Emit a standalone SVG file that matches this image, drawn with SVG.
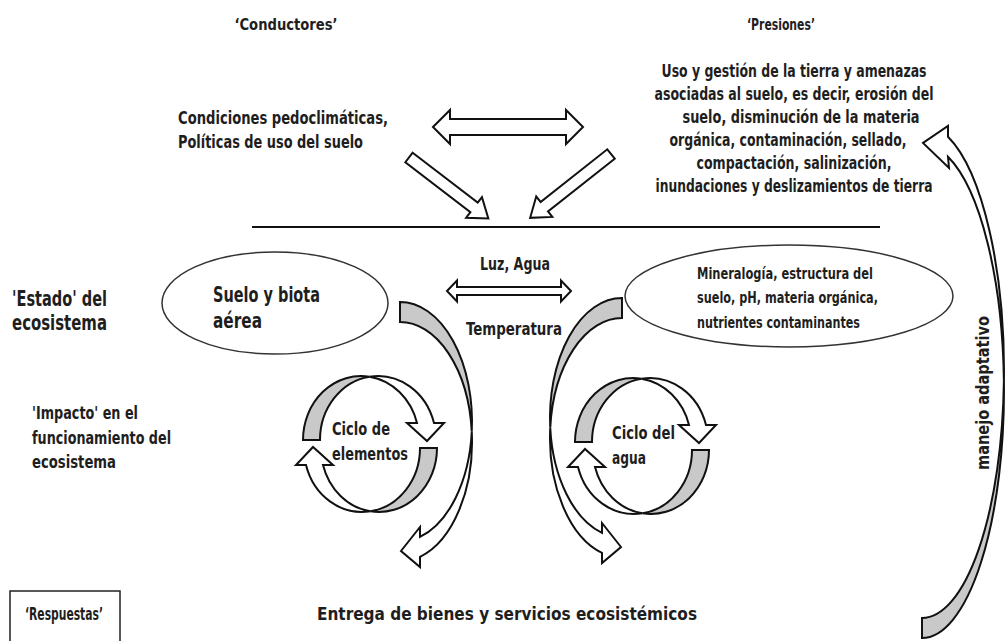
<svg xmlns="http://www.w3.org/2000/svg" xmlns:xlink="http://www.w3.org/1999/xlink" width="1005" height="641" viewBox="0 0 1005 641">
<style>
.t{font-family:"DejaVu Sans Condensed","DejaVu Sans",sans-serif;font-stretch:condensed;font-weight:bold;fill:#1e1e1e;}
.s15{font-size:16px}.s17{font-size:18.5px}.s16{font-size:17px}.s20{font-size:21.5px}.s14{font-size:15px}
.ol{fill:#fff;stroke:#111;stroke-width:2;stroke-linejoin:miter}
.gr{fill:#c9c9c9;stroke:#111;stroke-width:2}
.el{fill:#fff;stroke:#333;stroke-width:1.5}
</style>
<defs>
<g id="cyc">
<path class="gr" d="M303,440 A58,64 0 0 1 369.5,376.7 A58,64 0 0 0 320,440 Z"/>
<path class="ol" d="M369.5,376.7 A58,64 0 0 1 434,423 L444,423 L427,441 L407,423 L417,423 A58,64 0 0 0 369.5,376.7 Z"/>
</g>
<g id="big">
<path class="gr" d="M400,302 A72,119.8 0 0 1 471.75,431.8 A72,119.8 0 0 0 400,322 Z"/>
<path class="ol" d="M471.75,431.8 A72,119.8 0 0 1 420,556.9 L420,567 L401,551 L420,527 L420,536.9 A72,119.8 0 0 0 471.75,431.8 Z"/>
</g>
</defs>
<rect width="1005" height="641" fill="#fff"/>

<g id="conductores"><text class="t s15" x="286" y="30" text-anchor="middle" textLength="103" lengthAdjust="spacingAndGlyphs">‘Conductores’</text></g>
<g id="presiones-title"><text class="t s15" x="781" y="30" text-anchor="middle" textLength="68" lengthAdjust="spacingAndGlyphs">‘Presiones’</text></g>

<g id="presiones" class="t s16" text-anchor="middle">
<text x="794" y="77" textLength="265" lengthAdjust="spacingAndGlyphs">Uso y gestión de la tierra y amenazas</text>
<text x="794" y="100" textLength="279" lengthAdjust="spacingAndGlyphs">asociadas al suelo, es decir, erosión del</text>
<text x="801" y="123" textLength="237" lengthAdjust="spacingAndGlyphs">suelo, disminución de la materia</text>
<text x="788" y="146" textLength="237" lengthAdjust="spacingAndGlyphs">orgánica, contaminación, sellado,</text>
<text x="794" y="169" textLength="195" lengthAdjust="spacingAndGlyphs">compactación, salinización,</text>
<text x="794" y="192" textLength="277" lengthAdjust="spacingAndGlyphs">inundaciones y deslizamientos de tierra</text>
</g>

<g id="condiciones" class="t s17">
<text x="178" y="124" textLength="210" lengthAdjust="spacingAndGlyphs">Condiciones pedoclimáticas,</text>
<text x="178" y="148" textLength="185" lengthAdjust="spacingAndGlyphs">Políticas de uso del suelo</text>
</g>

<g id="estado" class="t s20">
<text x="12" y="306" textLength="95" lengthAdjust="spacingAndGlyphs">'Estado' del</text>
<text x="12" y="330" textLength="95" lengthAdjust="spacingAndGlyphs">ecosistema</text>
</g>

<g id="impacto" class="t s17">
<text x="32" y="419" textLength="106" lengthAdjust="spacingAndGlyphs">'Impacto' en el</text>
<text x="32" y="444" textLength="139" lengthAdjust="spacingAndGlyphs">funcionamiento del</text>
<text x="32" y="468" textLength="84" lengthAdjust="spacingAndGlyphs">ecosistema</text>
</g>

<g id="suelo-biota">
<ellipse class="el" cx="275" cy="303" rx="113" ry="51"/>
<text class="t s20" x="213" y="302" textLength="107" lengthAdjust="spacingAndGlyphs">Suelo y biota</text>
<text class="t s20" x="213" y="328" textLength="49" lengthAdjust="spacingAndGlyphs">aérea</text>
</g>

<g id="mineralogia">
<ellipse class="el" cx="789" cy="296" rx="164" ry="51"/>
<text class="t s14" x="697" y="279" textLength="176" lengthAdjust="spacingAndGlyphs">Mineralogía, estructura del</text>
<text class="t s14" x="697" y="303" textLength="181" lengthAdjust="spacingAndGlyphs">suelo, pH, materia orgánica,</text>
<text class="t s14" x="697" y="328" textLength="163" lengthAdjust="spacingAndGlyphs">nutrientes contaminantes</text>
</g>

<g id="luz-agua"><text class="t s17" x="515" y="270" text-anchor="middle" textLength="70" lengthAdjust="spacingAndGlyphs">Luz, Agua</text></g>
<g id="temperatura"><text class="t s17" x="514" y="335" text-anchor="middle" textLength="96" lengthAdjust="spacingAndGlyphs">Temperatura</text></g>

<g id="ciclo-elementos">
<use xlink:href="#cyc"/>
<use xlink:href="#cyc" transform="rotate(180,370,444)"/>
<text class="t s17" x="332" y="435" textLength="58" lengthAdjust="spacingAndGlyphs">Ciclo de</text>
<text class="t s17" x="332" y="460" textLength="76" lengthAdjust="spacingAndGlyphs">elementos</text>
</g>

<g id="ciclo-agua">
<use xlink:href="#cyc" transform="translate(272,2)"/>
<use xlink:href="#cyc" transform="translate(272,2) rotate(180,370,444)"/>
<text class="t s17" x="612" y="439" textLength="63" lengthAdjust="spacingAndGlyphs">Ciclo del</text>
<text class="t s17" x="612" y="464" textLength="34" lengthAdjust="spacingAndGlyphs">agua</text>
</g>

<g id="respuestas">
<rect x="10" y="591" width="110" height="60" fill="none" stroke="#222" stroke-width="1.5"/>
<text class="t s17" x="64" y="620" text-anchor="middle" textLength="78" lengthAdjust="spacingAndGlyphs">‘Respuestas’</text>
</g>

<g id="entrega"><text class="t s17" x="317" y="620" textLength="380" lengthAdjust="spacingAndGlyphs">Entrega de bienes y servicios ecosistémicos</text></g>

<g id="manejo"><text class="t s17" x="989" y="393" text-anchor="middle" transform="rotate(-90,989,393)" textLength="154" lengthAdjust="spacingAndGlyphs">manejo adaptativo</text></g>

<g id="connectors">
<line x1="252" y1="227" x2="880" y2="227" stroke="#111" stroke-width="2"/>
<path class="ol" d="M433,127 L450,110 L450,119 L566,119 L566,110 L583,127 L566,144 L566,135 L450,135 L450,144 Z"/>
<path class="ol" d="M0,-6 L82,-6 L82,-13 L100,0 L82,13 L82,6 L0,6 Z" transform="translate(409,157.5) rotate(37.5)"/>
<path class="ol" d="M0,-6 L85,-6 L85,-13 L103,0 L85,13 L85,6 L0,6 Z" transform="translate(611,154) rotate(141.7)"/>
<path class="ol" d="M447,291 L457,280.5 L457,287 L561,287 L561,280.5 L571,291 L561,301.5 L561,295 L457,295 L457,301.5 Z"/>
<use xlink:href="#big"/>
<use xlink:href="#big" transform="translate(1022,-4) scale(-1,1)"/>
<path class="gr" d="M922,638 A82,247 0 0 0 1003.9,381 A82,247 0 0 1 922,618 Z"/>
<path class="ol" d="M1003.9,381 A82,247 0 0 0 948,136.8 L948,126 L923,143 L949,168 L948,156.8 A82,247 0 0 1 1003.9,381 Z"/>
</g>
</svg>
